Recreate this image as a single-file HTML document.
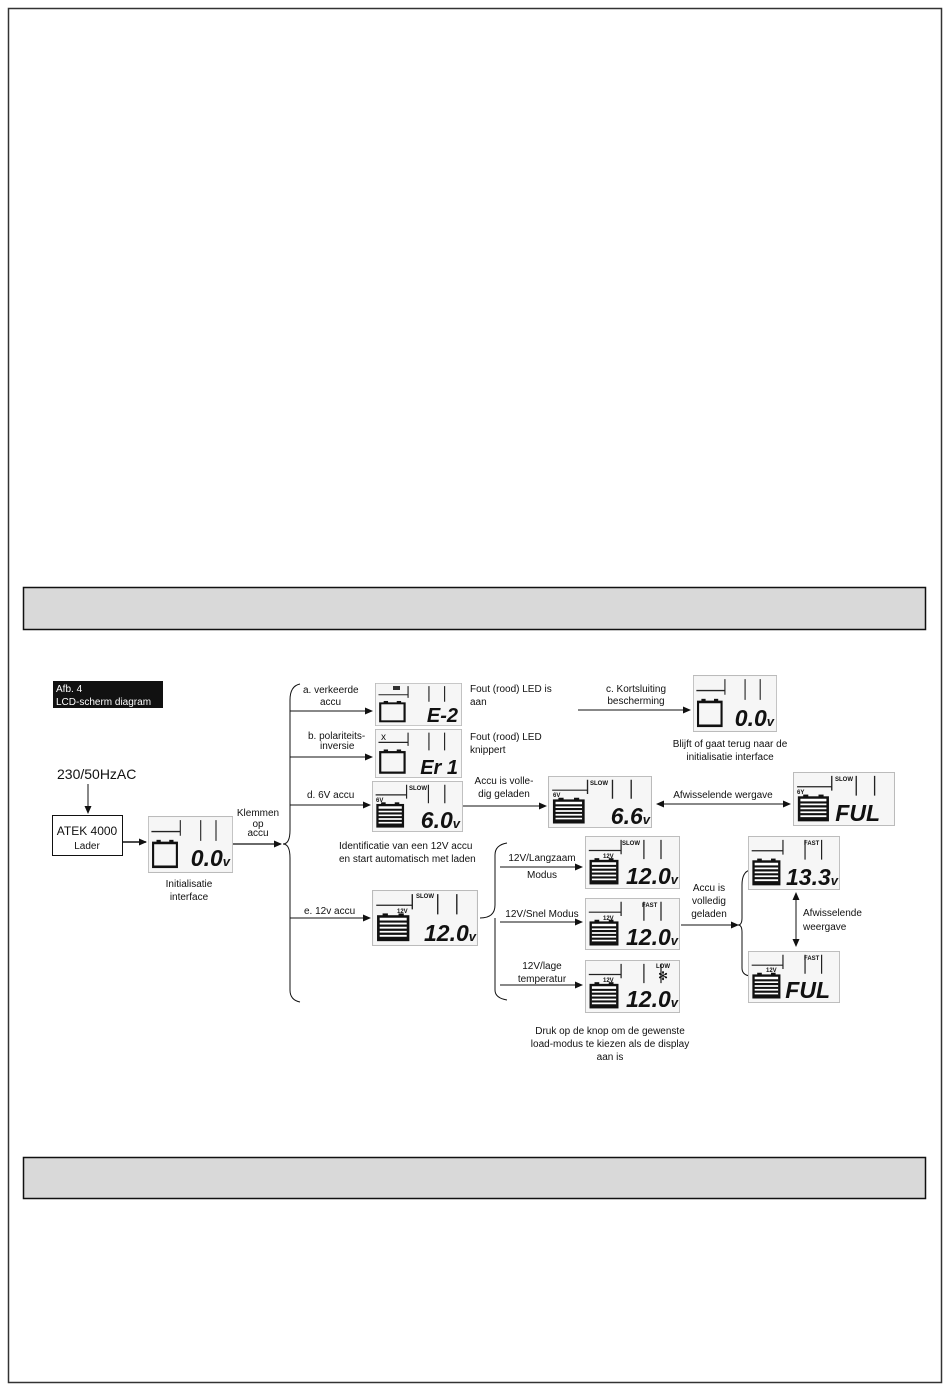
<!DOCTYPE html>
<html><head><meta charset="utf-8"><style>
html,body{margin:0;padding:0;background:#fff}
svg{display:block}
text{font-family:"Liberation Sans",sans-serif;fill:#111}
.s{font-size:10px}
.d{font-size:23px;font-weight:bold;font-style:italic;letter-spacing:0px}
.t{font-size:6px;font-weight:bold}
</style></head><body>
<svg width="950" height="1389" viewBox="0 0 950 1389" xmlns="http://www.w3.org/2000/svg">
<defs>
<marker id="a" markerWidth="8" markerHeight="8" refX="7" refY="4" orient="auto" markerUnits="userSpaceOnUse"><path d="M0,0.5 L8,4 L0,7.5z" fill="#111"/></marker>
<marker id="b" markerWidth="8" markerHeight="8" refX="1" refY="4" orient="auto" markerUnits="userSpaceOnUse"><path d="M8,0.5 L0,4 L8,7.5z" fill="#111"/></marker>
<symbol id="le" viewBox="0 0 100 55" preserveAspectRatio="none">
<rect x="0.5" y="0.5" width="99" height="54" fill="#f6f6f6" stroke="#bbb"/>
<path d="M4,15 H38 M38,4 V19 M62,4 V24 M80,4 V24" stroke="#222" stroke-width="1.3" fill="none"/>
<rect x="6" y="26" width="28" height="23" fill="none" stroke="#111" stroke-width="2.5"/>
<rect x="10" y="23" width="5" height="3" fill="#111"/><rect x="25" y="23" width="5" height="3" fill="#111"/>
</symbol>
<symbol id="lf" viewBox="0 0 100 55" preserveAspectRatio="none">
<rect x="0.5" y="0.5" width="99" height="54" fill="#f6f6f6" stroke="#bbb"/>
<path d="M4,15 H38 M38,4 V19 M62,4 V24 M80,4 V24" stroke="#222" stroke-width="1.3" fill="none"/>
<rect x="6" y="26" width="28" height="23" fill="#fff" stroke="#111" stroke-width="2.5"/>
<path d="M7,31 H33 M7,35 H33 M7,39 H33 M7,43 H33 M7,47 H33" stroke="#111" stroke-width="2.2"/>
<rect x="10" y="23" width="5" height="3" fill="#111"/><rect x="25" y="23" width="5" height="3" fill="#111"/>
</symbol>
</defs>
<rect x="8.5" y="8.5" width="933" height="1374" fill="none" stroke="#333" stroke-width="1.5"/>
<rect x="23.5" y="587.5" width="902" height="42" fill="#d9d9d9" stroke="#111" stroke-width="1.5"/>
<rect x="23.5" y="1157.5" width="902" height="41" fill="#d9d9d9" stroke="#111" stroke-width="1.5"/>

<rect x="53" y="681" width="110" height="27" fill="#111"/>
<text x="56" y="692" style="font-size:10px;fill:#fff">Afb. 4</text>
<text x="56" y="705" style="font-size:10px;fill:#fff">LCD-scherm diagram</text>

<text x="57" y="779" style="font-size:14px">230/50HzAC</text>
<line x1="88" y1="784" x2="88" y2="813" stroke="#111" marker-end="url(#a)"/>
<rect x="52.5" y="815.5" width="70" height="40" fill="#fff" stroke="#111"/>
<text x="87" y="835" text-anchor="middle" style="font-size:12px">ATEK 4000</text>
<text x="87" y="849" text-anchor="middle" style="font-size:10px">Lader</text>
<line x1="122" y1="842" x2="146" y2="842" stroke="#111" stroke-width="1.5" marker-end="url(#a)"/>

<use href="#le" x="148" y="816" width="85" height="57"/>
<text x="230" y="866" text-anchor="end" class="d">0.0<tspan style="font-size:13px">v</tspan></text>
<text x="189" y="887" text-anchor="middle" class="s">Initialisatie</text>
<text x="189" y="900" text-anchor="middle" class="s">interface</text>

<line x1="233" y1="844" x2="281" y2="844" stroke="#111" stroke-width="1.2" marker-end="url(#a)"/>
<text x="258" y="816" text-anchor="middle" class="s">Klemmen</text>
<text x="258" y="827" text-anchor="middle" class="s">op</text>
<text x="258" y="836" text-anchor="middle" class="s">accu</text>
<path d="M300,684 Q290,686 290,700 V830 Q290,844 283,844 Q290,844 290,858 V990 Q290,1000 300,1002" fill="none" stroke="#111"/>

<line x1="290" y1="711" x2="372" y2="711" stroke="#111" marker-end="url(#a)"/>
<text x="303" y="693" class="s">a. verkeerde</text><text x="320" y="705" class="s">accu</text>
<line x1="290" y1="757" x2="372" y2="757" stroke="#111" marker-end="url(#a)"/>
<text x="308" y="739" class="s">b. polariteits-</text><text x="320" y="749" class="s">inversie</text>
<line x1="290" y1="805" x2="370" y2="805" stroke="#111" marker-end="url(#a)"/>
<text x="307" y="798" class="s">d. 6V accu</text>
<line x1="290" y1="918" x2="370" y2="918" stroke="#111" marker-end="url(#a)"/>
<text x="304" y="914" class="s">e. 12v accu</text>

<use href="#le" x="375" y="683" width="87" height="43"/>
<rect x="393" y="686" width="7" height="4" fill="#333"/>
<text x="458" y="722" text-anchor="end" class="d" style="font-size:20px">E-2</text>
<use href="#le" x="375" y="729" width="87" height="49"/>
<text x="381" y="740" style="font-size:10px">x</text>
<text x="458" y="774" text-anchor="end" class="d" style="font-size:20px">Er 1</text>
<use href="#lf" x="372" y="781" width="91" height="51"/>
<text x="376" y="802" class="t">6V</text><text x="409" y="790" class="t">SLOW</text>
<text x="460" y="828" text-anchor="end" class="d">6.0<tspan style="font-size:13px">v</tspan></text>

<text x="470" y="692" class="s">Fout  (rood)  LED  is</text><text x="470" y="705" class="s">aan</text>
<text x="470" y="740" class="s">Fout   (rood)   LED</text><text x="470" y="753" class="s">knippert</text>
<text x="339" y="849" class="s">Identificatie  van  een  12V accu</text>
<text x="339" y="862" class="s">en start automatisch met laden</text>

<line x1="578" y1="710" x2="690" y2="710" stroke="#111" marker-end="url(#a)"/>
<text x="636" y="692" text-anchor="middle" class="s">c. Kortsluiting</text>
<text x="636" y="704" text-anchor="middle" class="s">bescherming</text>
<use href="#le" x="693" y="675" width="84" height="57"/>
<text x="774" y="726" text-anchor="end" class="d">0.0<tspan style="font-size:13px">v</tspan></text>
<text x="730" y="747" text-anchor="middle" class="s">Blijft of gaat terug naar de</text>
<text x="730" y="760" text-anchor="middle" class="s">initialisatie interface</text>

<line x1="463" y1="806" x2="546" y2="806" stroke="#111" marker-end="url(#a)"/>
<text x="504" y="784" text-anchor="middle" class="s">Accu is volle-</text>
<text x="504" y="797" text-anchor="middle" class="s">dig geladen</text>
<use href="#lf" x="548" y="776" width="104" height="52"/>
<text x="553" y="797" class="t">6V</text><text x="590" y="785" class="t">SLOW</text>
<text x="650" y="824" text-anchor="end" class="d">6.6<tspan style="font-size:13px">v</tspan></text>
<line x1="657" y1="804" x2="790" y2="804" stroke="#111" marker-start="url(#b)" marker-end="url(#a)"/>
<text x="723" y="798" text-anchor="middle" class="s">Afwisselende wergave</text>
<use href="#lf" x="793" y="772" width="102" height="54"/>
<text x="797" y="794" class="t">6Y</text><text x="835" y="781" class="t">SLOW</text>
<text x="880" y="821" text-anchor="end" class="d">FUL</text>

<use href="#lf" x="372" y="890" width="106" height="56"/>
<text x="397" y="913" class="t">12V</text><text x="416" y="898" class="t">SLOW</text>
<text x="476" y="941" text-anchor="end" class="d">12.0<tspan style="font-size:13px">v</tspan></text>
<path d="M480,918 Q495,918 495,905 V855 Q495,845 507,843 M495,918 V990 Q495,998 507,1000" fill="none" stroke="#111"/>

<line x1="500" y1="867" x2="582" y2="867" stroke="#111" marker-end="url(#a)"/>
<text x="542" y="861" text-anchor="middle" class="s">12V/Langzaam</text><text x="542" y="878" text-anchor="middle" class="s">Modus</text>
<line x1="500" y1="922" x2="582" y2="922" stroke="#111" marker-end="url(#a)"/>
<text x="542" y="917" text-anchor="middle" class="s">12V/Snel Modus</text>
<line x1="500" y1="985" x2="582" y2="985" stroke="#111" marker-end="url(#a)"/>
<text x="542" y="969" text-anchor="middle" class="s">12V/lage</text><text x="542" y="982" text-anchor="middle" class="s">temperatur</text>

<use href="#lf" x="585" y="836" width="95" height="53"/>
<text x="603" y="858" class="t">12V</text><text x="622" y="845" class="t">SLOW</text>
<text x="678" y="884" text-anchor="end" class="d">12.0<tspan style="font-size:13px">v</tspan></text>
<use href="#lf" x="585" y="898" width="95" height="52"/>
<text x="603" y="920" class="t">12V</text><text x="642" y="907" class="t">FAST</text>
<text x="678" y="945" text-anchor="end" class="d">12.0<tspan style="font-size:13px">v</tspan></text>
<use href="#lf" x="585" y="960" width="95" height="53"/>
<text x="603" y="982" class="t">12V</text><text x="656" y="968" class="t">LOW</text><text x="658" y="980" style="font-size:12px">✻</text>
<text x="678" y="1007" text-anchor="end" class="d">12.0<tspan style="font-size:13px">v</tspan></text>

<text x="610" y="1034" text-anchor="middle" class="s">Druk op de knop om de gewenste</text>
<text x="610" y="1047" text-anchor="middle" class="s">load-modus te kiezen als de display</text>
<text x="610" y="1060" text-anchor="middle" class="s">aan is</text>

<line x1="681" y1="925" x2="738" y2="925" stroke="#111" marker-end="url(#a)"/>
<text x="709" y="891" text-anchor="middle" class="s">Accu is</text>
<text x="709" y="904" text-anchor="middle" class="s">volledig</text>
<text x="709" y="917" text-anchor="middle" class="s">geladen</text>
<path d="M750,870 Q742,872 742,885 V918 Q742,925 738,925 Q742,925 742,932 V968 Q742,975 750,976" fill="none" stroke="#111"/>

<use href="#lf" x="748" y="836" width="92" height="54"/>
<text x="804" y="845" class="t">FAST</text>
<text x="838" y="885" text-anchor="end" class="d">13.3<tspan style="font-size:13px">v</tspan></text>
<line x1="796" y1="893" x2="796" y2="946" stroke="#111" marker-start="url(#b)" marker-end="url(#a)"/>
<text x="803" y="916" class="s">Afwisselende</text><text x="803" y="930" class="s">weergave</text>
<use href="#lf" x="748" y="951" width="92" height="52"/>
<text x="766" y="972" class="t">12V</text><text x="804" y="960" class="t">FAST</text>
<text x="830" y="998" text-anchor="end" class="d">FUL</text>
</svg>
</body></html>
